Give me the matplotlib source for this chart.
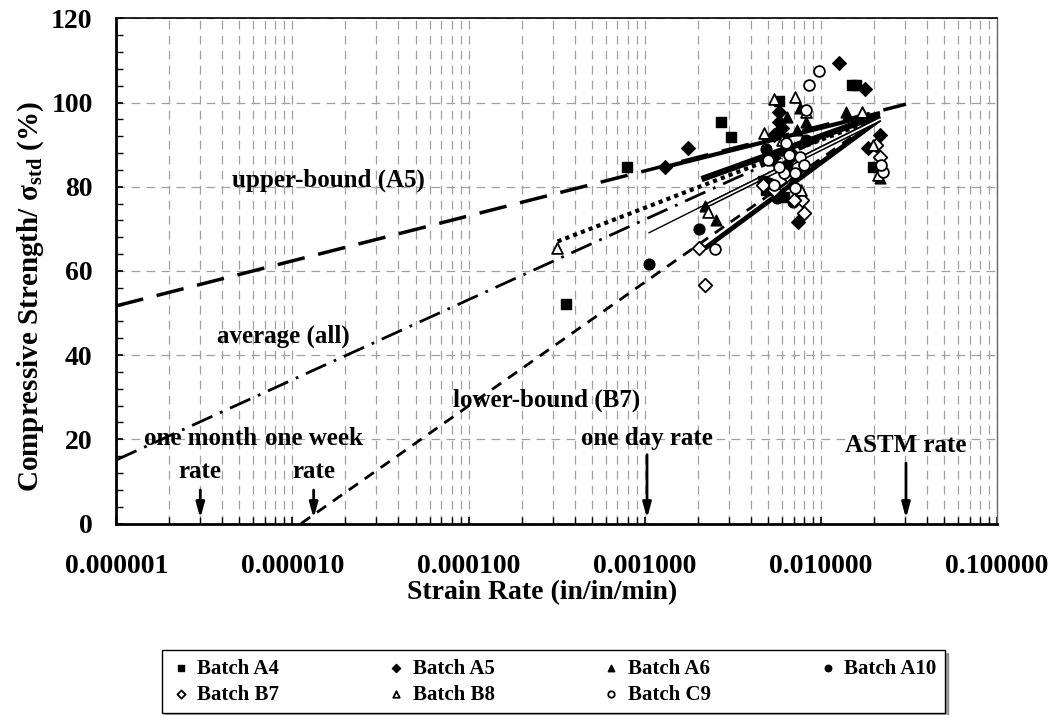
import matplotlib
matplotlib.use("Agg")
import matplotlib.pyplot as plt
import numpy as np
from matplotlib.ticker import FixedLocator, NullFormatter, LogLocator

plt.rcParams['font.family'] = ['Liberation Serif', 'DejaVu Serif']
plt.rcParams['font.weight'] = 'bold'
plt.rcParams['mathtext.fontset'] = 'custom'
plt.rcParams['mathtext.rm'] = 'Liberation Serif:bold'
plt.rcParams['mathtext.it'] = 'Liberation Serif:bold'
plt.rcParams['mathtext.bf'] = 'Liberation Serif:bold'

# ---- data ----
a4_x = [3.57e-4, 7.9e-4, 2.72e-3, 3.1e-3, 5.8e-3, 4.9e-3, 6.2e-3, 4.7e-3, 6.3e-3, 0.0150, 0.0158, 0.0197]
a4_y = [52.1, 84.7, 95.4, 91.8, 100.3, 79.2, 77.6, 81.3, 88.7, 104.2, 104.2, 84.7]

a5_x = [1.31e-3, 1.77e-3, 0.0126, 0.0178, 0.0216, 0.0185, 7.4e-3, 5.8e-3, 5.75e-3, 5.44e-3, 6.0e-3, 6.9e-3]
a5_y = [84.7, 89.2, 109.4, 103.2, 92.3, 89.2, 71.6, 97.7, 95.4, 92.3, 94.0, 87.5]

a6_x = [2.2e-3, 2.55e-3, 0.0138, 0.0216, 6.4e-3, 7.56e-3, 8.2e-3, 7.3e-3, 6.1e-3, 6.9e-3]
a6_y = [75.4, 72.1, 97.7, 82.1, 96.5, 98.7, 95.4, 93.5, 88.7, 81.6]

a10_x = [1.06e-3, 2.04e-3, 4.9e-3, 6.9e-3, 5.1e-3, 5.3e-3, 6.4e-3, 8.2e-3, 5.6e-3]
a10_y = [61.6, 69.9, 88.9, 76.4, 80.9, 86.3, 85.1, 91.1, 77.3]

b7_x = [2.2e-3, 2.04e-3, 7.8e-3, 7.0e-3, 0.0216, 0.0205, 8.0e-3, 5.4e-3, 6.4e-3, 4.7e-3]
b7_y = [56.6, 65.4, 76.8, 76.8, 87.0, 89.9, 73.7, 79.2, 82.8, 80.4]

b8_x = [3.16e-4, 2.3e-3, 0.0171, 0.0197, 5.44e-3, 7.1e-3, 4.77e-3, 7.7e-3, 8.2e-3, 6.0e-3, 0.021]
b8_y = [65.4, 74.0, 97.7, 89.9, 100.8, 101.3, 92.8, 79.2, 97.7, 91.0, 82.8]

c9_x = [9.7e-3, 8.6e-3, 2.5e-3, 0.0225, 0.0218, 8.2e-3, 6.3e-3, 7.1e-3, 6.2e-3, 7.6e-3,
        5.4e-3, 5.8e-3, 6.6e-3, 5.0e-3, 7.1e-3, 8.0e-3]
c9_y = [107.5, 104.2, 65.2, 83.5, 85.2, 98.2, 90.4, 83.3, 83.3, 87.0,
        80.4, 84.7, 87.5, 86.3, 79.7, 85.2]

# bound / average lines (strain rate, strength)
upper_x = [1e-6, 0.0304]
upper_y = [51.7, 99.6]
avg_x = [1e-6, 0.0216]
avg_y = [15.1, 97.6]
lower_x = [1.12e-5, 0.0216]
lower_y = [0.0, 96.5]

# short per-batch trend lines, all ending near the ASTM end
trend_x0 = [1.31e-3, 2.1e-3, 3.2e-4, 1.05e-3, 2.26e-3, 2.2e-3]
trend_y0 = [84.7, 81.8, 67.0, 69.0, 75.6, 65.4]
trend_x1 = [0.0216, 0.0216, 0.0216, 0.0216, 0.0216, 0.0216]
trend_y1 = [97.5, 97.0, 96.5, 96.5, 96.0, 96.0]

rate_x = [3.0e-6, 1.32e-5, 1.03e-3, 0.0304]
rate_lbl = ['one month\nrate', 'one week\nrate', 'one day rate', 'ASTM rate']

fig = plt.figure(figsize=(10.53, 7.15), dpi=100)
ax = fig.add_axes([0.1104, 0.2678, 0.8365, 0.7066])
ax.set_xscale('log')
ax.set_xlim(1e-6, 1e-1)
ax.set_ylim(0, 120)

# grid
ax.xaxis.set_major_locator(LogLocator(base=10, numticks=10))
ax.xaxis.set_minor_locator(LogLocator(base=10, subs=np.arange(2, 10), numticks=20))
ax.xaxis.set_minor_formatter(NullFormatter())
ax.set_yticks(np.arange(0, 121, 20))
ax.yaxis.set_minor_locator(FixedLocator(np.arange(0, 121, 4)))
ax.grid(True, which='both', axis='x', color='#a0a0a0', linestyle=(0, (7, 5)), lw=0.9)
ax.grid(True, which='major', axis='y', color='#a0a0a0', linestyle=(0, (7, 5)), lw=0.9)
ax.set_axisbelow(True)

ax.set_xticklabels(['%.6f' % v for v in ax.get_xticks()])
ax.tick_params(which='both', direction='in', labelsize=20)
ax.tick_params(axis='x', which='major', pad=22)
ax.tick_params(axis='y', which='major', pad=17)
ax.tick_params(which='major', length=5, width=1.2)
ax.tick_params(which='minor', length=5, width=1)
ax.tick_params(axis='x', which='both', top=False)
ax.tick_params(axis='y', which='both', right=False)
for s in ['left', 'bottom']:
    ax.spines[s].set_linewidth(2)
ax.spines['top'].set_linewidth(1.2)
ax.spines['right'].set_linewidth(1)
ax.spines['right'].set_color('#666666')

# bound lines
ax.plot(upper_x, upper_y, color='black', lw=2.5, linestyle=(0, (8, 4)))
ax.plot(avg_x, avg_y, color='black', lw=2, linestyle=(0, (8, 3, 1, 3)))
ax.plot(lower_x, lower_y, color='black', lw=2, linestyle=(0, (4, 3)))

# per-batch trend lines
sty = [dict(lw=3, ls='-'), dict(lw=4.5, ls='-'), dict(lw=3, ls=(0, (1, 1))),
       dict(lw=1, ls='-'), dict(lw=3.5, ls='-'), dict(lw=3.5, ls='-')]
for i in range(len(trend_x0)):
    ax.plot([trend_x0[i], trend_x1[i]], [trend_y0[i], trend_y1[i]], color='black',
            solid_capstyle='butt', **sty[i])
ax.plot([trend_x0[4], trend_x1[4]], [trend_y0[4], trend_y1[4]], color='white', lw=1.2)

ms = 60
h = {}
h['A4'] = ax.scatter(a4_x, a4_y, marker='s', s=ms, c='black', label='Batch A4', zorder=3)
h['A5'] = ax.scatter(a5_x, a5_y, marker='D', s=ms * 0.8, c='black', label='Batch A5', zorder=3)
h['A6'] = ax.scatter(a6_x, a6_y, marker='^', s=ms, c='black', label='Batch A6', zorder=3)
h['A10'] = ax.scatter(a10_x, a10_y, marker='o', s=ms, c='black', label='Batch A10', zorder=3)
h['B7'] = ax.scatter(b7_x, b7_y, marker='D', s=ms * 0.8, facecolors='white', edgecolors='black',
                     lw=1.3, label='Batch B7', zorder=3)
h['B8'] = ax.scatter(b8_x, b8_y, marker='^', s=ms, facecolors='white', edgecolors='black',
                     lw=1.3, label='Batch B8', zorder=3)
h['C9'] = ax.scatter(c9_x, c9_y, marker='o', s=ms, facecolors='white', edgecolors='black',
                     lw=1.3, label='Batch C9', zorder=3)

# text labels
tk = dict(fontsize=18, fontweight='bold', ha='center', va='center')
ax.text(1.6e-5, 81.6, 'upper-bound (A5)', **tk)
ax.text(8.9e-6, 44.5, 'average (all)', **tk)
ax.text(2.77e-4, 29.3, 'lower-bound (B7)', **tk)

rate_ty = [16.2, 16.2, 20.3, 18.6]
rate_a0 = [8.6, 8.6, 17.0, 15.0]
for x, lbl, ty, a0 in zip(rate_x, rate_lbl, rate_ty, rate_a0):
    ax.text(x, ty, lbl, fontsize=18, fontweight='bold', ha='center', va='center',
            linespacing=1.55)
    ax.annotate('', xy=(x, 0.6), xytext=(x, a0),
                arrowprops=dict(arrowstyle='-|>,head_length=0.9,head_width=0.25',
                                color='black', lw=2))

ax.set_xlabel('Strain Rate (in/in/min)', fontsize=20, fontweight='bold', labelpad=1)
ax.xaxis.label.set_x(0.483)
ax.set_ylabel('Compressive Strength/ σ$_{\\rm std}$ (%)', fontsize=21,
              fontweight='bold', labelpad=4)
ax.yaxis.label.set_y(0.45)

order = ['A4', 'B7', 'A5', 'B8', 'A6', 'C9', 'A10']
leg = fig.legend([h[k] for k in order], [h[k].get_label() for k in order],
                 loc='center', bbox_to_anchor=(0.5255, 0.0465), ncol=4, fontsize=15,
                 frameon=True, fancybox=False, shadow=True, markerscale=0.6,
                 handlelength=1.0, handletextpad=0.3, columnspacing=5.1,
                 borderpad=0.4, labelspacing=0.3)
leg.get_frame().set_edgecolor('black')
leg.get_frame().set_linewidth(1)
for t in leg.get_texts():
    t.set_fontweight('bold')

fig.savefig('out.png', dpi=100)
